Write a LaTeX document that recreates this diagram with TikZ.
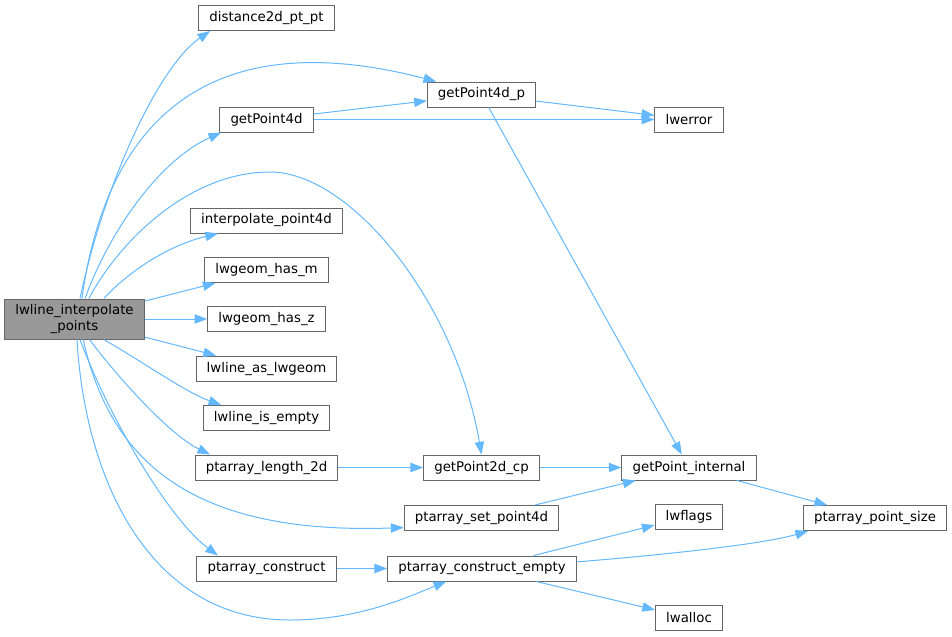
\documentclass[tikz,border=0pt]{standalone}
\usepackage{fontspec}
\setmainfont{DejaVu Sans}
\usepackage{tikz}
\usetikzlibrary{arrows.meta}
\definecolor{callblue}{HTML}{63B8FF}
\definecolor{boxgray}{HTML}{666666}
\definecolor{rootgray}{HTML}{999999}

\begin{document}
\begin{tikzpicture}[x=0.75pt,y=0.75pt,
  fn/.style={draw=boxgray, fill=white, line width=0.75pt, inner xsep=8pt, inner ysep=0pt,
    minimum height=18.75pt, font=\fontsize{10}{12}\selectfont},
  call/.style={draw=callblue, line width=0.75pt, -{Triangle[length=9.5pt,width=7pt]}}]
\useasboundingbox (0,0) rectangle (952,-636);
%\node {\includegraphics{callgraph.png}};
\node[fn, fill=rootgray, align=center, minimum height=30pt] (root) at (74.5,-319) {lwline\_interpolate\\\_points};
\node[fn] (dist) at (266.5,-18) {distance2d\_pt\_pt};
\node[fn] (gp4dp) at (481.5,-94.5) {getPoint4d\_p};
\node[fn] (gp4d) at (266.5,-119.5) {getPoint4d};
\node[fn] (lwerr) at (689,-119.5) {lwerror};
\node[fn] (interp) at (266.5,-220.5) {interpolate\_point4d};
\node[fn] (hasm) at (266.5,-270) {lwgeom\_has\_m};
\node[fn] (hasz) at (266.5,-319) {lwgeom\_has\_z};
\node[fn] (aslw) at (266.5,-368.5) {lwline\_as\_lwgeom};
\node[fn] (empty) at (266.5,-418) {lwline\_is\_empty};
\node[fn] (len) at (266.5,-467.5) {ptarray\_length\_2d};
\node[fn] (gp2dcp) at (481.5,-467.5) {getPoint2d\_cp};
\node[fn] (gpint) at (689,-467.5) {getPoint\_internal};
\node[fn] (setp) at (481.5,-518) {ptarray\_set\_point4d};
\node[fn] (flags) at (689,-516.5) {lwflags};
\node[fn] (psize) at (875,-518) {ptarray\_point\_size};
\node[fn] (constr) at (266.5,-568.5) {ptarray\_construct};
\node[fn] (cempty) at (482,-568.5) {ptarray\_construct\_empty};
\node[fn] (alloc) at (689,-618) {lwalloc};
% calls from the root
\draw[call] (root.75) .. controls (105,-180) and (160,-65) .. (dist.193);
\draw[call] (root.70) .. controls (105,-130) and (200,-20) .. (gp4dp.164);
\draw[call] (root.63) .. controls (110,-230) and (160,-160) .. (gp4d.196);
\draw[call] (root.55) .. controls (120,-240) and (190,-172) .. (270,-172)
  .. controls (350,-172) and (455,-300) .. (gp2dcp.north);
\draw[call] (root.35) .. controls (130,-270) and (170,-245) .. (interp.195);
\draw[call] (root) -- (hasm);
\draw[call] (root) -- (hasz);
\draw[call] (root) -- (aslw);
\draw[call] (root.-35) .. controls (140,-360) and (185,-392) .. (empty.164);
\draw[call] (root.-54) .. controls (120,-380) and (170,-435) .. (len.167);
\draw[call] (root.-67) .. controls (110,-460) and (190,-535) .. (setp.187);
\draw[call] (root.-75) .. controls (110,-420) and (170,-520) .. (constr.165);
\draw[call] (root.-83) .. controls (85,-480) and (150,-620) .. (290,-620)
  .. controls (360,-620) and (410,-596) .. (cempty.200);
% the other calls
\draw[call] (gp4d) -- (gp4dp);
\draw[call] (gp4d) -- (lwerr);
\draw[call] (gp4dp) -- (lwerr);
\draw[call] (gp4dp) -- (gpint);
\draw[call] (len) -- (gp2dcp);
\draw[call] (gp2dcp) -- (gpint);
\draw[call] (setp) -- (gpint);
\draw[call] (gpint) -- (psize);
\draw[call] (constr) -- (cempty);
\draw[call] (cempty) -- (flags);
\draw[call] (cempty.4) .. controls (650,-556) and (760,-545) .. (psize.191);
\draw[call] (cempty) -- (alloc);
\end{tikzpicture}
\end{document}
